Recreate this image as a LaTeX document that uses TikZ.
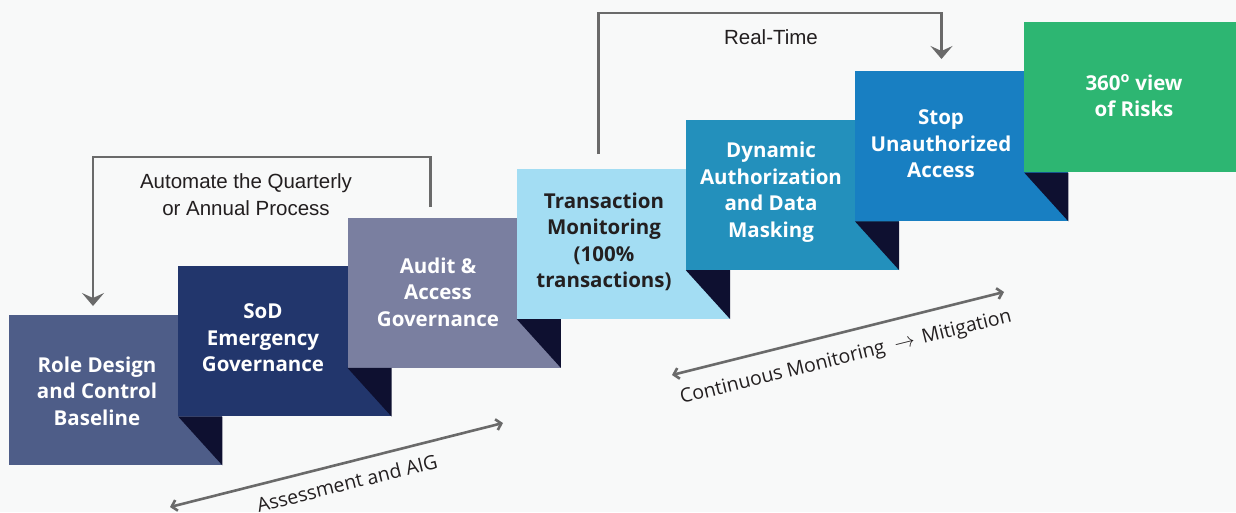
\documentclass[tikz,border=0pt]{standalone}
\usepackage{fontspec}
\setmainfont{Open Sans}
\newfontfamily\arialf{Liberation Sans}
\usetikzlibrary{arrows.meta,calc}
\definecolor{bg}{HTML}{F8F9F9}
\definecolor{cA}{HTML}{4E5D88}
\definecolor{cB}{HTML}{22366C}
\definecolor{cC}{HTML}{7A7FA0}
\definecolor{cD}{HTML}{A3DDF3}
\definecolor{cE}{HTML}{2390BC}
\definecolor{cF}{HTML}{187FC2}
\definecolor{cG}{HTML}{2DB672}
\definecolor{shd}{HTML}{0E1030}
\definecolor{ln}{HTML}{6A6A6A}
\definecolor{dk}{HTML}{231F20}
\begin{document}
\begin{tikzpicture}[x=1pt,y=-1pt,
  blk/.style={rectangle,draw=none,minimum width=213pt,minimum height=150pt,inner sep=0pt,anchor=north west},
  fold/.style={fill=shd},
  txt/.style={align=center,text=white,font=\bfseries\fontsize{20.5}{26.5}\selectfont,inner sep=0pt},
  lbl/.style={align=center,text=dk,font=\arialf\fontsize{20.5}{27}\selectfont,inner sep=0pt},
  dlbl/.style={text=dk,font=\fontsize{19.5}{23}\selectfont,inner sep=0pt,rotate=14},
  conn/.style={draw=ln,line width=2.6pt,-{Stealth[length=13pt,width=22pt,inset=5pt]}},
  span/.style={draw=ln,line width=2.6pt,{Straight Barb[length=5pt,width=11pt]}-{Straight Barb[length=5pt,width=11pt]}}]
\fill[bg] (0,0) rectangle (1236,512);
\useasboundingbox (0,0) rectangle (1236,512);
% blocks
\node[blk,fill=cA] (b1) at (9,315) {};
\node[blk,fill=cB] (b2) at (178.2,266.2) {};
\node[blk,fill=cC] (b3) at (347.4,217.4) {};
\node[blk,fill=cD] (b4) at (516.6,168.6) {};
\node[blk,fill=cE] (b5) at (685.8,119.8) {};
\node[blk,fill=cF] (b6) at (855,71) {};
\node[blk,fill=cG] (b7) at (1024.2,22.2) {};
% folds
\fill[fold] (b2.south west) -- (b2.south west -| b1.south east) -- (b1.south east) -- cycle;
\fill[fold] (b3.south west) -- (b3.south west -| b2.south east) -- (b2.south east) -- cycle;
\fill[fold] (b4.south west) -- (b4.south west -| b3.south east) -- (b3.south east) -- cycle;
\fill[fold] (b5.south west) -- (b5.south west -| b4.south east) -- (b4.south east) -- cycle;
\fill[fold] (b6.south west) -- (b6.south west -| b5.south east) -- (b5.south east) -- cycle;
\fill[fold] (b7.south west) -- (b7.south west -| b6.south east) -- (b6.south east) -- cycle;
% texts
\node[txt] (t1) at (97,391) {Role Design\\and Control\\Baseline};
\node[txt] (t2) at (263,338) {SoD\\Emergency\\Governance};
\node[txt] (t3) at (438,292) {Audit \&\\Access\\Governance};
\node[txt,text=dk] (t4) at (604,242) {Transaction\\Monitoring\\(100\%\\transactions)};
\node[txt] (t5) at (771,192) {Dynamic\\Authorization\\and Data\\Masking};
\node[txt] (t6) at (941,144) {Stop\\Unauthorized\\Access};
\node[txt] (t7) at (1134,96) {360\textsuperscript{o} view\\of Risks};
% loop connectors
\coordinate (a1s) at (430.5,207);
\coordinate (a1e) at (93,306);
\draw[conn] (a1s) -- (a1s |- 0,157) -| (a1e);
\node[lbl] (l1) at (246,195) {Automate the Quarterly\\or Annual Process};
\coordinate (a2s) at (598.5,154);
\coordinate (a2e) at (941.5,59);
\draw[conn] (a2s) -- (a2s |- 0,13) -| (a2e);
\node[lbl] (l2) at (771,37) {Real-Time};
% spans
\coordinate (s1a) at (170,507);
\coordinate (s1b) at (503,423);
\draw[span] (s1a) -- (s1b);
\node[dlbl] (l3) at (347,483) {Assessment and AIG};
\coordinate (s2a) at (672,375);
\coordinate (s2b) at (1004,292);
\draw[span] (s2a) -- (s2b);
\node[dlbl] (l4) at (846,358) {Continuous Monitoring\hspace{10pt}$\rightarrow$\hspace{8pt}Mitigation};
\end{tikzpicture}
\end{document}
